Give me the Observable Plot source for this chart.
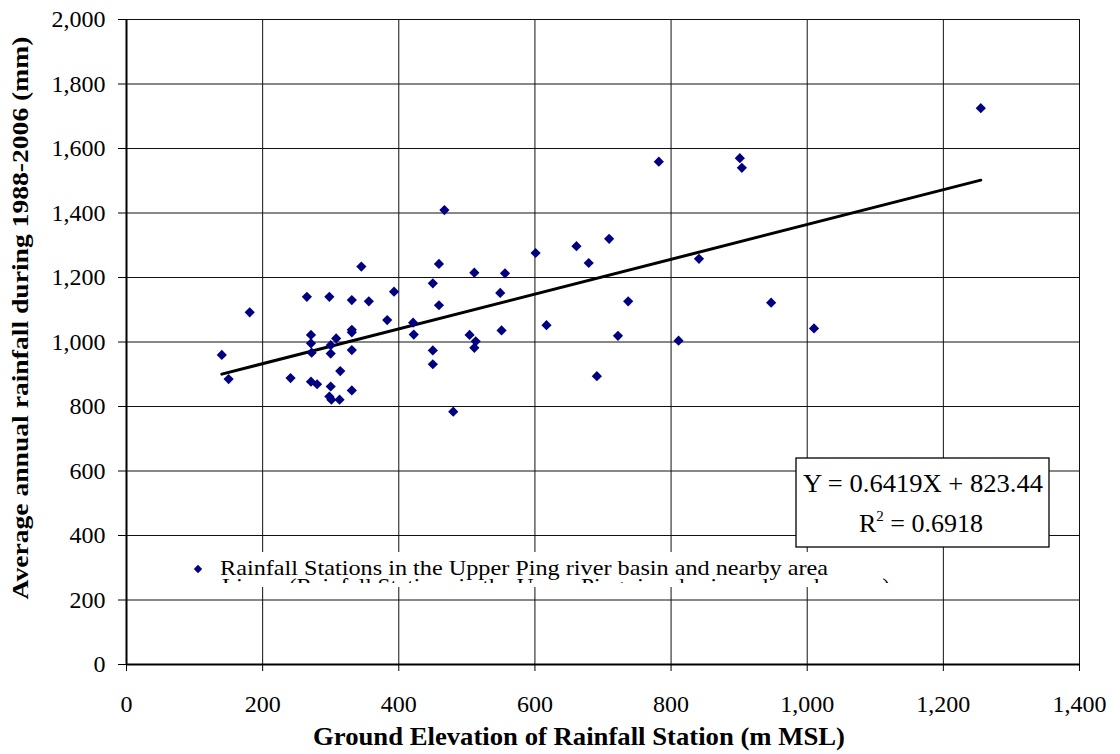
<!DOCTYPE html>
<html><head><meta charset="utf-8">
<script src="https://cdn.jsdelivr.net/npm/d3@7"></script>
<script src="https://cdn.jsdelivr.net/npm/@observablehq/plot@0.6"></script>
<style>
body{margin:0;background:#fff;}
#chart{width:1120px;height:754px;}
</style></head><body><div id="chart"></div>
<script>
// Station data
const elevation = [140,150,181,241,265,271,271,272,271,280,298,300,300,308,314,300,298,301,313,331,331,331,331,331,345,356,383,393,421,422,450,450,450,459,459,467,480,511,504,513,511,556,549,551,601,617,661,679,709,691,722,737,782,811,841,901,904,947,1010,1255];
const rainfall  = [960,885,1092,888,1140,1022,996,967,877,869,1140,990,964,1011,910,862,831,821,821,1130,1038,1030,975,850,1234,1126,1068,1156,1060,1023,1182,974,931,1242,1114,1409,784,1215,1022,1002,982,1213,1152,1036,1276,1052,1297,1245,1320,894,1019,1126,1559,1004,1258,1570,1540,1122,1042,1725];
const xTicks = [0,200,400,600,800,1000,1200,1400];
const yTicks = [0,200,400,600,800,1000,1200,1400,1600,1800,2000];
const seriesName = "Rainfall Stations in the Upper Ping river basin and nearby area";
const trendName = "Linear (Rainfall Stations in the Upper Ping river basin and nearby area)";
const equationText = "Y = 0.6419X + 823.44";
const r2Value = "0.6918";
const xTitle = "Ground Elevation of Rainfall Station (m MSL)";
const yTitle = "Average annual rainfall during 1988-2006 (mm)";

const data = elevation.map((x, i) => ({x, y: rainfall[i]}));
const fmt = d3.format(",");
const serif = "'Liberation Serif','Times New Roman',serif";

const plot = Plot.plot({
  width: 1120, height: 754,
  marginLeft: 126, marginRight: 41, marginTop: 19, marginBottom: 90,
  style: {fontFamily: serif, fontSize: "24px", color: "#000", background: "#fff"},
  x: {domain: [0, 1400]},
  y: {domain: [0, 2000]},
  marks: [
    Plot.ruleX(xTicks, {stroke: "#111", strokeWidth: 1}),
    Plot.ruleY(yTicks, {stroke: "#111", strokeWidth: 1}),
    Plot.axisX(xTicks, {tickFormat: fmt, tickSize: 7, tickPadding: 23, label: null, fontSize: 24}),
    Plot.axisY(yTicks, {tickFormat: fmt, tickSize: 8, tickPadding: 13, label: null, fontSize: 24}),
    Plot.ruleX([0], {stroke: "#000", strokeWidth: 2}),
    Plot.ruleY([0], {stroke: "#000", strokeWidth: 2}),
    Plot.linearRegressionY(data, {x: "x", y: "y", stroke: "#000", strokeWidth: 3, ci: 0}),
    Plot.dot(data, {x: "x", y: "y", symbol: "diamond2", r: 4.6, fill: "#000080", stroke: null})
  ]
});
document.getElementById("chart").appendChild(plot);

const svg = d3.select(plot);
// axis titles
svg.append("text").attr("x", 579).attr("y", 745).attr("text-anchor", "middle")
  .attr("font-family", serif).attr("font-size", 25).attr("font-weight", "bold")
  .attr("textLength", 532).attr("lengthAdjust", "spacingAndGlyphs").text(xTitle);
svg.append("text").attr("transform", "translate(28,318) rotate(-90)").attr("text-anchor", "middle")
  .attr("font-family", serif).attr("font-size", 23).attr("font-weight", "bold")
  .attr("textLength", 563).attr("lengthAdjust", "spacingAndGlyphs").text(yTitle);

// legend
const lg = svg.append("g").attr("text-anchor", "start");
lg.append("rect").attr("x", 188).attr("y", 552).attr("width", 705).attr("height", 35).attr("fill", "#fff");
const clip = svg.append("defs").append("clipPath").attr("id", "lgclip");
clip.append("rect").attr("x", 188).attr("y", 552).attr("width", 705).attr("height", 31);
lg.append("path").attr("d", d3.symbol(d3.symbolDiamond2, 45)()).attr("transform", "translate(198,569)").attr("fill", "#000080");
lg.append("text").attr("x", 220).attr("y", 575).attr("text-anchor", "start").attr("font-family", serif).attr("font-size", 22)
  .attr("textLength", 608).attr("lengthAdjust", "spacingAndGlyphs").text(seriesName);
lg.append("text").attr("x", 222).attr("y", 593).attr("text-anchor", "start").attr("clip-path", "url(#lgclip)")
  .attr("font-family", serif).attr("font-size", 22).attr("textLength", 668).attr("lengthAdjust", "spacingAndGlyphs").text(trendName);

// equation box
const eq = svg.append("g");
eq.append("rect").attr("x", 796).attr("y", 458).attr("width", 253).attr("height", 89).attr("fill", "#fff").attr("stroke", "#000").attr("stroke-width", 1.3);
eq.append("text").attr("x", 923).attr("y", 492).attr("text-anchor", "middle").attr("font-family", serif).attr("font-size", 26)
  .attr("textLength", 240).attr("lengthAdjust", "spacingAndGlyphs").text(equationText);
const r2 = eq.append("text").attr("x", 921).attr("y", 532).attr("text-anchor", "middle").attr("font-family", serif).attr("font-size", 26);
r2.append("tspan").text("R");
r2.append("tspan").attr("dy", -11).attr("font-size", 15).text("2");
r2.append("tspan").attr("dy", 11).text(" = " + r2Value);
</script></body></html>
